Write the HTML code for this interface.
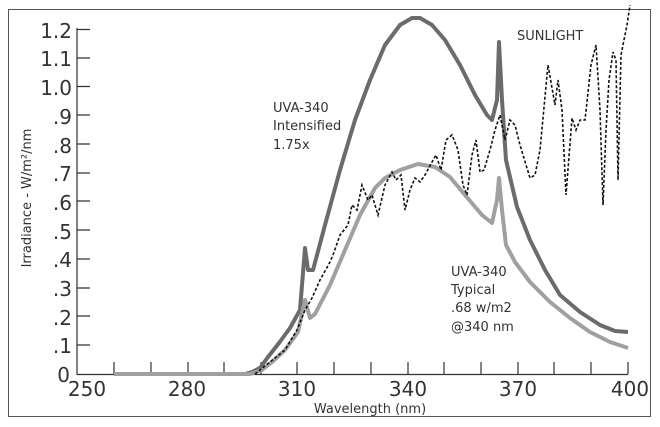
<!DOCTYPE html>
<html><head><meta charset="utf-8"><style>
html,body{margin:0;padding:0;background:#fff;}
svg{display:block;}
text{font-family:"DejaVu Sans","Liberation Sans",sans-serif;fill:#333;}
</style></head><body>
<svg width="660" height="427" viewBox="0 0 660 427" xmlns="http://www.w3.org/2000/svg">
<rect x="8.5" y="9.5" width="642" height="407" fill="none" stroke="#555" stroke-width="1"/>
<g stroke="#333" stroke-width="1.2" fill="none">
<line x1="77" y1="28" x2="77" y2="375"/>
<line x1="77" y1="374.5" x2="628" y2="374.5"/>
<path d="M77 29.5h13M77 58h13M77 86.5h13M77 115h13M77 144h13M77 173h13M77 201h13M77 230h13M77 259h13M77 288h13M77 316h13M77 345h13"/>
<path d="M114 374v-12M151 374v-12M188 374v-12M224 374v-12M261 374v-12M297 374v-12M334 374v-12M371 374v-12M408 374v-12M444 374v-12M481 374v-12M518 374v-12M554 374v-12M591 374v-12M628 374v-12"/>
</g>
<g font-size="20" text-anchor="end">
<text x="72" y="38">1.2</text><text x="72" y="66">1.1</text><text x="72" y="95">1.0</text>
<text x="72" y="124">.9</text><text x="72" y="153">.8</text><text x="72" y="181">.7</text>
<text x="72" y="210">.6</text><text x="72" y="239">.5</text><text x="72" y="267">.4</text>
<text x="72" y="296">.3</text><text x="72" y="325">.2</text><text x="72" y="353">.1</text>
<text x="70" y="382">0</text>
</g>
<g font-size="20" text-anchor="middle">
<text x="87" y="396">250</text><text x="187" y="396">280</text><text x="297" y="396">310</text>
<text x="408" y="396">340</text><text x="518" y="396">370</text><text x="630" y="396">400</text>
</g>
<text x="370" y="413" font-size="13" text-anchor="middle">Wavelength (nm)</text>
<text transform="translate(31,198) rotate(-90)" font-size="13" text-anchor="middle">Irradiance - W/m²/nm</text>
<g font-size="13">
<text x="273" y="112">UVA-340</text><text x="273" y="130">Intensified</text><text x="273" y="149">1.75x</text>
<text x="451" y="276">UVA-340</text><text x="451" y="294">Typical</text><text x="451" y="312">.68 w/m2</text><text x="451" y="331">@340 nm</text>
<text x="517" y="40">SUNLIGHT</text>
</g>
<path fill="none" stroke="#6b6b6b" stroke-width="4" stroke-linejoin="round" d="M114 374L245 374L252 372L260 368L268 357L279 343L290 328L300 310L305 248L308 270L313 270L325 225L340 170L355 120L370 80L385 45L400 25L412 18L420 18L432 25L445 40L460 65L475 95L487 115L492 120L497 100L499 42L502 100L506 160L517 207L530 240L545 270L560 295L580 312L600 325L615 331L628 332"/>
<path fill="none" stroke="#a0a0a0" stroke-width="4" stroke-linejoin="round" d="M114 374L250 374L262 370L272 362L285 350L298 332L305 300L310 318L315 314L330 285L345 250L360 215L375 188L385 178L400 170L418 164L435 167L450 177L465 195L482 215L492 223L497 200L499 178L502 210L506 245L515 262L530 282L550 302L570 318L590 332L610 342L628 348"/>
<path fill="none" stroke="#111" stroke-width="1.6" stroke-dasharray="3,2" d="M255 374L270 362L285 350L297 330L305 310L312 298L320 280L330 262L333 255L340 235L348 225L352 205L357 210L362 185L368 200L372 195L378 215L385 185L392 172L396 180L401 175L405 210L410 190L415 178L420 182L425 175L432 162L436 155L441 170L446 140L452 135L458 150L463 185L467 195L472 155L476 140L480 172L484 170L490 150L495 130L500 115L505 140L510 120L515 125L520 145L530 178L535 175L540 150L548 65L555 105L558 80L562 110L566 195L572 118L576 130L580 120L585 120L591 65L596 45L600 110L603 205L606 130L609 80L613 52L616 60L618 180L621 55L623 45L627 25L630 5"/>
</svg>
</body></html>
